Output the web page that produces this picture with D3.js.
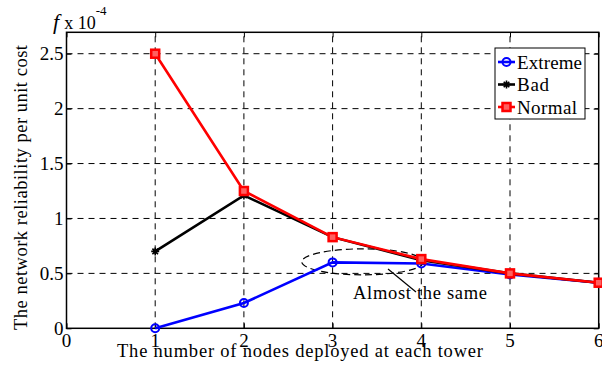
<!DOCTYPE html>
<html>
<head>
<meta charset="utf-8">
<script src="https://cdn.jsdelivr.net/npm/d3@7"></script>
<style>
  body { margin: 0; background: #fff; }
</style>
</head>
<body>
<svg id="chart" width="602" height="365" font-family="'Liberation Serif', 'DejaVu Serif', serif"></svg>
<script>
// data (units of 1e-4)
var nodes = [1, 2, 3, 4, 5, 6];
var extreme = [0, 0.23, 0.60, 0.59, 0.49, 0.415];
var bad = [0.70, 1.21, 0.83, 0.62, 0.50, 0.415];
var normal = [2.50, 1.25, 0.83, 0.63, 0.50, 0.415];
var xTicks = [0, 1, 2, 3, 4, 5, 6];
var yTicks = [0, 0.5, 1, 1.5, 2, 2.5];

var series = [
  {name: "Extreme", values: extreme, color: "#0000ff", marker: "circle", w: 65},
  {name: "Bad", values: bad, color: "#000000", marker: "star", w: 32},
  {name: "Normal", values: normal, color: "#ff0000", marker: "square", w: 60}
];

var margin = {left: 66.5, top: 32.3, right: 3.3, bottom: 36.7};
var W = 602, H = 365;
var svg = d3.select("#chart");

var x = d3.scaleLinear().domain([0, 6]).range([margin.left, W - margin.right]);
var y = d3.scaleLinear().domain([0, 2.695]).range([H - margin.bottom, margin.top]);

// grid
var grid = svg.append("g").attr("stroke", "#000").attr("stroke-width", 1)
  .attr("stroke-dasharray", "6,5");
grid.selectAll("line.v").data(xTicks.filter(function(d){ return d > 0 && d < 6; }))
  .enter().append("line")
  .attr("x1", function(d){ return x(d); }).attr("x2", function(d){ return x(d); })
  .attr("y1", y.range()[0]).attr("y2", y.range()[1]);
grid.selectAll("line.h").data(yTicks.filter(function(d){ return d > 0; }))
  .enter().append("line")
  .attr("y1", function(d){ return y(d); }).attr("y2", function(d){ return y(d); })
  .attr("x1", x.range()[0]).attr("x2", x.range()[1]);

// axes with inward ticks
var xAxis = svg.append("g").attr("transform", "translate(0," + y(0) + ")")
  .call(d3.axisTop(x).tickValues(xTicks).tickSize(5).tickFormat(""));
var xAxisTop = svg.append("g").attr("transform", "translate(0," + y.range()[1] + ")")
  .call(d3.axisBottom(x).tickValues(xTicks).tickSize(5).tickFormat(""));
var yAxis = svg.append("g").attr("transform", "translate(" + x(0) + ",0)")
  .call(d3.axisRight(y).tickValues(yTicks).tickSize(5).tickFormat(""));
var yAxisR = svg.append("g").attr("transform", "translate(" + x.range()[1] + ",0)")
  .call(d3.axisLeft(y).tickValues(yTicks).tickSize(5).tickFormat(""));
[xAxis, xAxisTop, yAxis, yAxisR].forEach(function(a){
  a.select(".domain").remove();
  a.selectAll("line").attr("stroke", "#000");
});

// box
svg.append("rect")
  .attr("x", x.range()[0]).attr("y", y.range()[1])
  .attr("width", x.range()[1] - x.range()[0]).attr("height", y.range()[0] - y.range()[1])
  .attr("fill", "none").attr("stroke", "#000").attr("stroke-width", 1.5);

// tick labels
svg.append("g").selectAll("text").data(xTicks).enter().append("text")
  .attr("x", function(d){ return x(d); }).attr("y", 347)
  .attr("text-anchor", "middle").attr("font-size", 19)
  .text(function(d){ return d; });
svg.append("g").selectAll("text").data(yTicks).enter().append("text")
  .attr("x", x(0) - 3).attr("y", function(d){ return y(d) + 6.5; })
  .attr("text-anchor", "end").attr("font-size", 19)
  .text(function(d){ return d; });

// annotation ellipse + pointer
svg.append("ellipse")
  .attr("cx", x(3.34)).attr("cy", y(0.605))
  .attr("rx", 61).attr("ry", 13)
  .attr("fill", "none").attr("stroke", "#000").attr("stroke-width", 1.2)
  .attr("stroke-dasharray", "7,4");
svg.append("line")
  .attr("x1", 388).attr("y1", 269).attr("x2", 416).attr("y2", 292)
  .attr("stroke", "#000").attr("stroke-width", 1.2);

// lines
var line = d3.line()
  .x(function(d, i){ return x(nodes[i]); })
  .y(function(d){ return y(d); });

function drawMarker(g, type, color, cx, cy) {
  if (type === "circle") {
    g.append("circle").attr("cx", cx).attr("cy", cy).attr("r", 4)
      .attr("fill", "none").attr("stroke", color).attr("stroke-width", 2);
  } else if (type === "square") {
    g.append("rect").attr("x", cx - 4).attr("y", cy - 4).attr("width", 8).attr("height", 8)
      .attr("fill", "#ff6060").attr("stroke", color).attr("stroke-width", 2.5);
  } else {
    var s = 4;
    g.append("path")
      .attr("d", "M" + (cx - s) + "," + cy + "H" + (cx + s) +
        "M" + (cx - s * 0.7) + "," + (cy - s * 0.7) + "L" + (cx + s * 0.7) + "," + (cy + s * 0.7) +
        "M" + (cx - s * 0.7) + "," + (cy + s * 0.7) + "L" + (cx + s * 0.7) + "," + (cy - s * 0.7) +
        "M" + cx + "," + (cy - s) + "V" + (cy + s))
      .attr("stroke", color).attr("stroke-width", 1.6);
  }
}

series.forEach(function(s){
  var g = svg.append("g");
  g.append("path").datum(s.values)
    .attr("d", line).attr("fill", "none")
    .attr("stroke", s.color).attr("stroke-width", 2.6);
  s.values.forEach(function(v, i){
    drawMarker(g, s.marker, s.color, x(nodes[i]), y(v));
  });
});

svg.append("text").attr("x", 353).attr("y", 299)
  .attr("font-size", 18.5).attr("textLength", 134).attr("lengthAdjust", "spacing")
  .text("Almost the same");

// legend
var lg = svg.append("g");
lg.append("rect").attr("x", 495).attr("y", 48).attr("width", 90).attr("height", 71)
  .attr("fill", "#fff").attr("stroke", "#000").attr("stroke-width", 1);
series.forEach(function(s, i){
  var ly = 62 + i * 22.5;
  lg.append("line").attr("x1", 498).attr("x2", 515).attr("y1", ly).attr("y2", ly)
    .attr("stroke", s.color).attr("stroke-width", 2.6);
  drawMarker(lg, s.marker, s.color, 506.5, ly);
  lg.append("text").attr("x", 517).attr("y", ly + 6.5).attr("font-size", 19)
    .attr("textLength", s.w).attr("lengthAdjust", "spacing").text(s.name);
});

// axis labels
svg.append("text").attr("x", 117).attr("y", 357)
  .attr("font-size", 18.5).attr("textLength", 366).attr("lengthAdjust", "spacing")
  .text("The number of nodes deployed at each tower");
svg.append("text")
  .attr("transform", "translate(27,330) rotate(-90)")
  .attr("font-size", 18.5).attr("textLength", 285).attr("lengthAdjust", "spacing")
  .text("The network reliability per unit cost");

// exponent
var ex = svg.append("text").attr("x", 53).attr("y", 29).attr("font-size", 22);
ex.append("tspan").attr("font-style", "italic").text("f");
ex.append("tspan").attr("font-size", 18).attr("dx", 5).text("x 10");
ex.append("tspan").attr("font-size", 13).attr("dy", -14).text("-4");
</script>
</body>
</html>
